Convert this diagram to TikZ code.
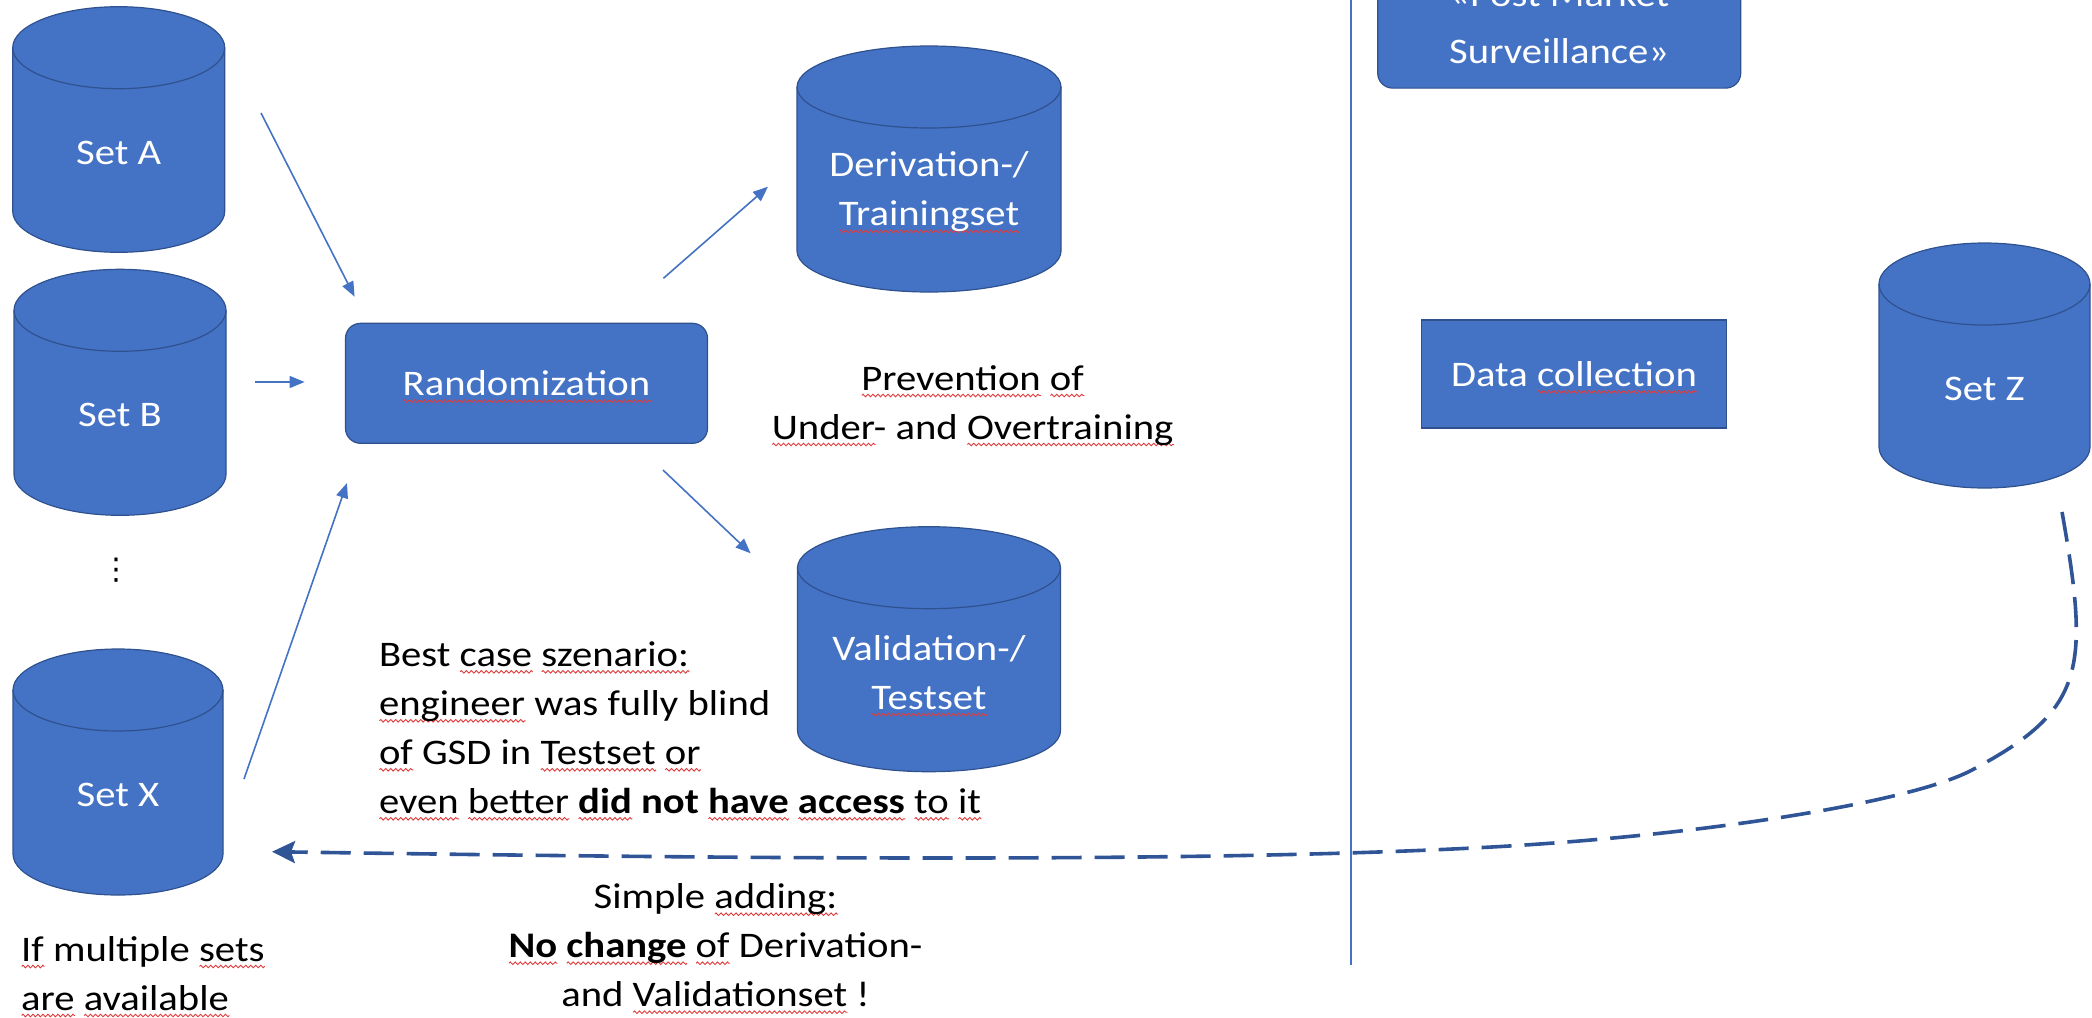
\documentclass[tikz,border=0pt]{standalone}
\usepackage{fontspec}
\setmainfont{Carlito}[FakeStretch=1.13]
\newfontfamily\symfont{DejaVu Sans}
\usetikzlibrary{arrows.meta,decorations.pathmorphing}

\definecolor{officeblue}{HTML}{4472C4}
\definecolor{edgeblue}{HTML}{2F528F}
\definecolor{darkblue}{HTML}{2F5597}
\definecolor{squig}{HTML}{E03C3C}

% red wavy spell-check underline below a word
\newdimen\sqwd
\newcommand\sq[1]{\setbox0\hbox{#1}\sqwd=\wd0\relax
  \rlap{\smash{\tikz[baseline=0pt]\draw[draw=squig, fill=none, sharp corners, solid,
      line width=0.9pt, decorate,
      decoration={zigzag, segment length=5pt, amplitude=1.3pt}]
      (0pt,-5.5pt) -- (\sqwd,-5.5pt);}}#1}

\tikzset{
  txt/.style={font=\fontsize{36}{49}\selectfont, inner sep=0pt, text=black},
  whitetxt/.style={txt, text=white, align=center},
  bluebox/.style={fill=officeblue, draw=edgeblue, line width=1.2pt},
  flow/.style={draw=officeblue, line width=1.6pt, -{Triangle[length=15pt,width=12pt]}},
  feedback/.style={draw=darkblue, line width=3.6pt, dash pattern=on 30pt off 13pt,
    -{Stealth[length=23pt,width=22pt,inset=4pt]}},
  divider/.style={draw=officeblue, line width=1.5pt},
}

% database cylinder: name, centre x, top y, width, height, label
\newcommand\dbcyl[6]{%
  \pgfmathsetmacro\cylrx{#4/2}%
  \path[bluebox] (#2-\cylrx,#3+41) -- (#2-\cylrx,#3+#5-41)
     arc[start angle=180,end angle=360,x radius=\cylrx pt,y radius=41pt]
     -- (#2+\cylrx,#3+41)
     arc[start angle=0,end angle=180,x radius=\cylrx pt,y radius=41pt] -- cycle;
  \draw[edgeblue, line width=1.2pt] (#2-\cylrx,#3+41)
     arc[start angle=180,end angle=360,x radius=\cylrx pt,y radius=41pt];
  \node[inner sep=0pt, minimum width=#4pt, minimum height=#5pt, anchor=north] (#1) at (#2,#3) {};
  \node[whitetxt] (#1-label) at (#2,{#3+(41+#5)/2+2.5}) {#6};
}

\begin{document}
\begin{tikzpicture}[x=1pt,y=-1pt]
\useasboundingbox (0,0) rectangle (2092,1017);
\clip (0,0) rectangle (2092,1017);

% input data sets
\dbcyl{seta}{118.7}{6.7}{212}{245.6}{Set A}
\dbcyl{setb}{120}{269.3}{212}{246}{Set B}
\dbcyl{setx}{118}{649}{210}{246}{Set X}
\node[txt, font=\fontsize{30}{30}\symfont] (vdots) at (116,570) {⋮};

% split result
\dbcyl{deriv}{929}{46}{264}{246}{Derivation-/\\\sq{Trainingset}}
\dbcyl{valid}{929}{526.7}{263}{245}{Validation-/\\\sq{Testset}}

% randomization step
\node[bluebox, whitetxt, rounded corners=15pt, minimum width=362pt, minimum height=120pt]
  (rand) at (526.5,383.3) {\sq{Randomization}};

% arrows into and out of the randomization
\coordinate (a1s) at (261,113);     \coordinate (a1e) at (354.6,296.7);
\coordinate (a2s) at (255,382);     \coordinate (a2e) at (304.6,382);
\coordinate (a3s) at (244,779);     \coordinate (a3e) at (347,483);
\coordinate (a4s) at (663.4,278.3); \coordinate (a4e) at (768,186.7);
\coordinate (a5s) at (663,470);     \coordinate (a5e) at (750.6,553.3);
\draw[flow] (a1s) -- (a1e);
\draw[flow] (a2s) -- (a2e);
\draw[flow] (a3s) -- (a3e);
\draw[flow] (a4s) -- (a4e);
\draw[flow] (a5s) -- (a5e);

% explanatory notes
\node[txt, align=center, anchor=base] (prevent) at (972.6,439)
  {\sq{Prevention} \sq{of}\\\sq{Under}- and \sq{Overtraining}};
\node[txt, align=left, anchor=base west] (bestcase) at (378.8,813.3)
  {Best \sq{case} \sq{szenario:}\\\sq{engineer} was fully blind\\\sq{of} GSD in \sq{Testset} \sq{or}\\\sq{even} \sq{better} \textbf{\sq{did} not \sq{have} \sq{access}} \sq{to} \sq{it}};
\node[txt, align=left, anchor=base west] (multi) at (21,1010)
  {\sq{If} multiple \sq{sets}\\\sq{are} \sq{available}};
\node[txt, align=center, anchor=base] (adding) at (715.5,1006.7)
  {Simple \sq{adding:}\\\textbf{\sq{No} \sq{change}} \sq{of} Derivation-\\and \sq{Validationset} !};

% post market part
\coordinate (divtop) at (1351,0);
\coordinate (divbot) at (1351,965);
\draw[divider] (divtop) -- (divbot);
\node[bluebox, whitetxt, font=\fontsize{36}{57}\selectfont, rounded corners=15pt,
  minimum width=363pt, minimum height=131pt] (pms) at (1559.2,22.6)
  {«Post Market\\Surveillance»};
\node[bluebox, whitetxt, minimum width=305pt, minimum height=108pt]
  (collect) at (1574,374) {Data \sq{collection}};
\dbcyl{setz}{1984.5}{243}{211}{245}{Set Z}

% new data flows back to the pool of sets
\coordinate (zout) at (2062,512);
\coordinate (xin) at (272,851.7);
\draw[feedback] (zout) .. controls (2090,670) and (2085,710) .. (1972,770)
  .. controls (1912,802) and (1709,834) .. (1509,846)
  .. controls (1209,864) and (700,858) .. (xin);
\end{tikzpicture}
\end{document}
